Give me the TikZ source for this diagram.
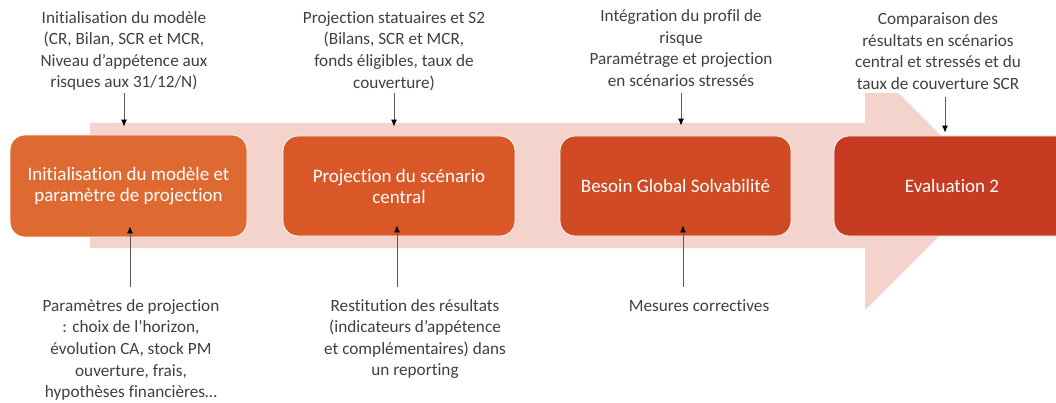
\documentclass[tikz,border=0pt]{standalone}
\usepackage{fontspec}
\setmainfont{Carlito}[Ligatures=NoCommon]
\usetikzlibrary{arrows.meta}
\definecolor{band}{RGB}{243,211,203}
\definecolor{cA}{RGB}{222,106,50}
\definecolor{cB}{RGB}{218,88,40}
\definecolor{cC}{RGB}{208,74,36}
\definecolor{cD}{RGB}{199,59,34}
\definecolor{txt}{RGB}{64,64,64}
\definecolor{arrline}{RGB}{90,90,90}
\tikzset{
  stepbox/.style={rounded corners=15pt, draw=white, line width=0.8pt, text=white,
    align=center, inner sep=0pt, font=\fontsize{19}{21}\selectfont},
  note/.style={text=txt, align=center, inner sep=0pt, font=\fontsize{17.2}{21.6}\selectfont},
  conn/.style={draw=arrline, line width=0.9pt, -{Latex[length=7pt,width=6pt,black]}},
}
\begin{document}
\begin{tikzpicture}[x=1pt,y=-1pt]
\useasboundingbox (0,0) rectangle (1056,403);
\clip (0,0) rectangle (1056,403);
\fill[white] (0,0) rectangle (1056,403);
% background arrow
\fill[band] (90,123) -- (865,123) -- (865,93) -- (898,93) -- (990,185) -- (865,310) -- (865,248) -- (90,248) -- cycle;
% boxes
\node[stepbox, fill=cA, minimum width=237pt, minimum height=102pt] (b1) at (128.5,186) {Initialisation du modèle et\\paramètre de projection};
\node[stepbox, fill=cB, minimum width=232pt, minimum height=100pt] (b2) at (399,186) {Projection du scénario\\central};
\node[stepbox, fill=cC, minimum width=231pt, minimum height=100pt] (b3) at (675.5,186) {Besoin Global Solvabilité};
\node[stepbox, fill=cD, minimum width=240pt, minimum height=100pt] (b4) at (954,186) {};
\node[text=white, inner sep=0pt, font=\fontsize{19}{21}\selectfont] (l4) at (952,186) {Evaluation 2};
% top notes
\node[note] (t1) at (124,51) {Initialisation du modèle\\(CR, Bilan, SCR et MCR,\\Niveau d’appétence aux\\risques aux 31/12/N)};
\node[note] (t2) at (394,51) {Projection statuaires et S2\\(Bilans, SCR et MCR,\\fonds éligibles, taux de\\couverture)};
\node[note] (t3) at (681,48) {Intégration du profil de\\risque\\Paramétrage et projection\\en scénarios stressés};
\node[note] (t4) at (938,51) {Comparaison des\\résultats en scénarios\\central et stressés et du\\taux de couverture SCR};
% bottom notes
\node[note] (u1) at (131,350) {Paramètres de projection\\: choix de l’horizon,\\évolution CA, stock PM\\ouverture, frais,\\hypothèses financières…};
\node[note] (u2) at (415,339) {Restitution des résultats\\(indicateurs d’appétence\\et complémentaires) dans\\un reporting};
\node[note] (u3) at (699,306) {Mesures correctives};
% connector ends
\coordinate (s1) at (124,93);
\coordinate (s2) at (394,93);
\coordinate (s3) at (681,93);
\coordinate (s4) at (945,97);
\coordinate (v1) at (130,287);
\coordinate (v2) at (397,287);
\coordinate (v3) at (683,287);
% connectors
\draw[conn, shorten >=8pt] (s1) -- (s1 |- b1.north);
\draw[conn, shorten >=9pt] (s2) -- (s2 |- b2.north);
\draw[conn, shorten >=10pt] (s3) -- (s3 |- b3.north);
\draw[conn, shorten >=3pt] (s4) -- (s4 |- b4.north);
\draw[conn, shorten >=-11pt] (v1) -- (v1 |- b1.south);
\draw[conn, shorten >=-11pt] (v2) -- (v2 |- b2.south);
\draw[conn, shorten >=-11pt] (v3) -- (v3 |- b3.south);
\end{tikzpicture}
\end{document}
